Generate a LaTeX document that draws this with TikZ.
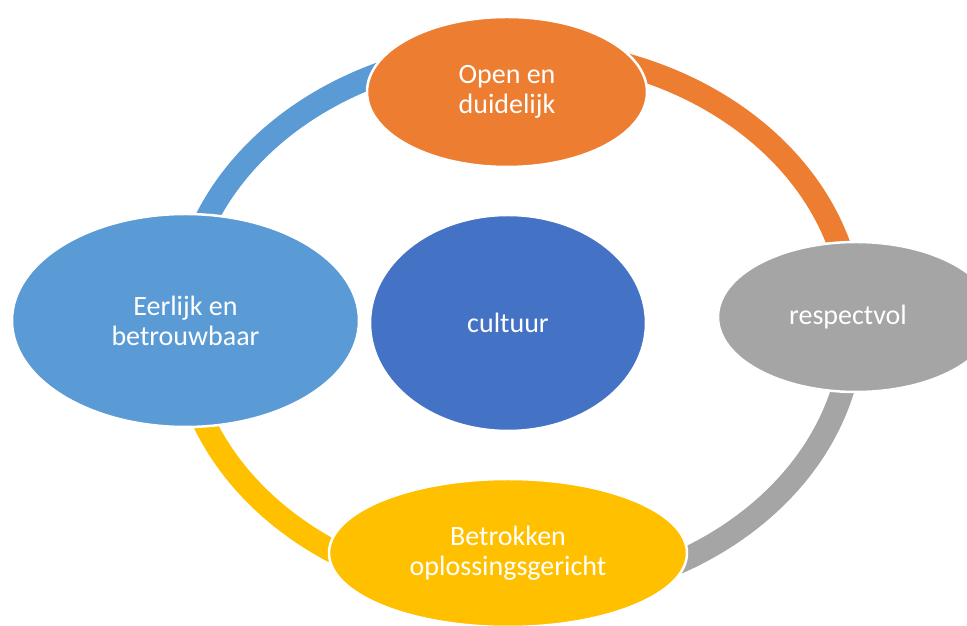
\documentclass[tikz,border=0pt]{standalone}
\usepackage{fontspec}
\setmainfont{Carlito}
\usetikzlibrary{shapes.geometric}
\definecolor{cOrange}{HTML}{ED7D31}
\definecolor{cBlue}{HTML}{5B9BD5}
\definecolor{cGray}{HTML}{A5A5A5}
\definecolor{cYellow}{HTML}{FFC000}
\definecolor{cDark}{HTML}{4472C4}
\begin{document}
\begin{tikzpicture}[x=1pt,y=1pt,
  bubble/.style={ellipse, draw=white, line width=2.5pt, inner sep=0pt,
    text=white, align=center, font=\fontsize{28}{30}\selectfont},
  ring/.style={line width=23pt}]
\useasboundingbox (0,0) rectangle (967,626);
\clip (0,0) rectangle (967,626);
\coordinate (rc) at (517,303);
% ring arcs (drawn first, nodes cover their ends)
\draw[ring, cBlue]   ([shift={(110:336 and 273)}]rc) arc[start angle=110, end angle=165, x radius=336, y radius=273];
\draw[ring, cOrange] ([shift={(10:336 and 273)}]rc) arc[start angle=10, end angle=75, x radius=336, y radius=273];
\draw[ring, cGray]   ([shift={(-68:336 and 273)}]rc) arc[start angle=-68, end angle=-8, x radius=336, y radius=273];
\draw[ring, cYellow] ([shift={(-165:336 and 273)}]rc) arc[start angle=-165, end angle=-117, x radius=336, y radius=273];
% nodes
\node[bubble, fill=cOrange, minimum width=280, minimum height=150] (open) at (507,534) {Open en\\duidelijk};
\node[bubble, fill=cBlue, minimum width=347, minimum height=213] (eerlijk) at (185.5,305.5) {Eerlijk en\\betrouwbaar};
\node[bubble, fill=cDark, minimum width=276, minimum height=216] (cultuur) at (508,303) {cultuur};
\node[bubble, fill=cGray, minimum width=276, minimum height=150] (resp) at (856,309) {respectvol\hspace*{16pt}};
\node[bubble, fill=cYellow, minimum width=358, minimum height=148] (betr) at (508,73) {Betrokken\\oplossingsgericht};
\end{tikzpicture}
\end{document}
